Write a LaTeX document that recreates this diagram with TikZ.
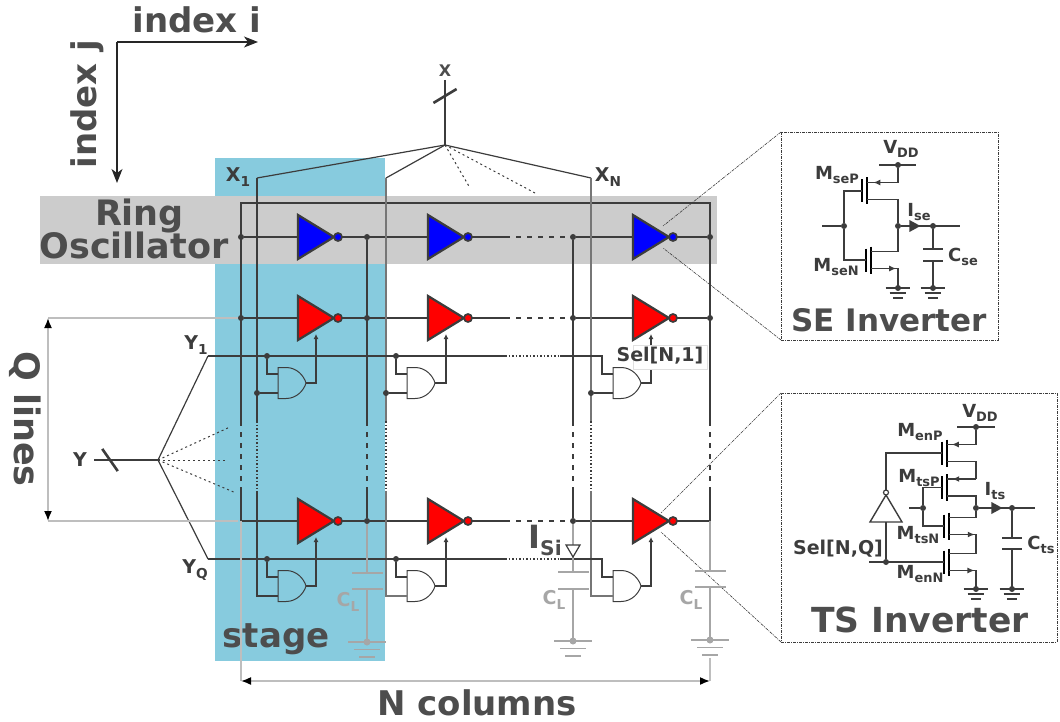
\documentclass[tikz,border=0pt]{standalone}
\usepackage{fontspec}
\setmainfont{DejaVu Sans}
\usetikzlibrary{positioning,shapes.geometric,arrows,arrows.meta,decorations.markings}
\definecolor{wire}{HTML}{3C3C3C}
\definecolor{txt}{HTML}{4D4D4D}
\definecolor{stagec}{HTML}{87CBDE}
\definecolor{bandc}{HTML}{CCCCCC}
\definecolor{lg}{HTML}{A6A6A6}
\definecolor{lgg}{HTML}{BEBEBE}
\newcommand{\lowtxt}[1]{\raisebox{-.4ex}{\scalebox{.72}{#1}}}
\tikzset{
	inner sep=0pt,outer sep=0pt,
	rail/.style={draw=wire,line width=2pt},
	railb/.style={draw=wire,line width=2pt,dash pattern=on 5pt off 6pt},
	thinw/.style={draw=wire,line width=1.2pt},
	thinb/.style={draw=wire,line width=1.2pt,dash pattern=on 1.5pt off 2pt},
	fan/.style={draw=wire,line width=1pt,dash pattern=on 2pt off 3pt},
	capw/.style={draw=lg,line width=2pt},
	lgw/.style={draw=lgg,line width=1.6pt},
	dot/.style={circle,fill=wire,minimum size=6pt},
	inv/.style={isosceles triangle,isosceles triangle stretches,shape border rotate=0,anchor=lower side,
		minimum width=44pt,minimum height=36pt,draw=wire,line width=2.2pt},
	invb/.style={inv,fill=blue},
	invr/.style={inv,fill=red},
	bub/.style={circle,draw=wire,line width=1.7pt,minimum size=8pt},
	plate/.style={rectangle,fill=lg,minimum width=31pt,minimum height=2.6pt},
	platesm/.style={rectangle,fill=wire,minimum width=20pt,minimum height=1.8pt},
	flow/.style={isosceles triangle,isosceles triangle stretches,fill=wire,minimum width=12pt,minimum height=11pt},
	buss/.style={rectangle,fill=wire,minimum width=27pt,minimum height=2.6pt},
	zoomln/.style={draw=wire,line width=.6pt,dash pattern=on 3pt off 1pt on 1pt off 1pt},
	zoombox/.style={rectangle,draw=wire,line width=.7pt,dash pattern=on 3pt off 1pt on 1pt off 1pt,fill=white},
	arw/.style={decoration={markings,mark=at position #1 with {\arrow{Latex[length=7pt,width=6pt]}}},postaction=decorate},
	post/.style={-{Stealth[length=14pt,width=11pt,inset=4pt]},draw=black!85,line width=1.2pt},
	both/.style={{Latex[black,length=10pt,width=8pt]}-{Latex[black,length=10pt,width=8pt]},draw=lgg,line width=1.6pt},
	pre/.style={thinw,-{Latex[length=5pt,width=5pt]}},
	sw/.style={draw=wire,line width=1.3pt},
	lab/.style={font=\bfseries\fontsize{34}{36}\selectfont,text=txt},
	lbl/.style={font=\bfseries\fontsize{19}{19}\selectfont,text=wire},
	lblsm/.style={font=\bfseries\fontsize{18}{18}\selectfont,text=wire},
	lblg/.style={font=\bfseries\fontsize{19}{19}\selectfont,text=lg},
	gnd/.pic={
		\draw[line width=1.6pt] (-19,0) -- (19,0);
		\draw[line width=1.6pt] (-13,7.5) -- (13,7.5);
		\draw[line width=1.6pt] (-8,15) -- (8,15);
	},
	mosfet/.pic={
		\draw[line width=1.6pt] (-5,-11.5) -- (-5,11.5);
		\draw[line width=1.6pt] (0,-13.5) -- (0,13.5);
		\coordinate (-G) at (-5,0);
		\coordinate (-T) at (0,-8.5);
		\coordinate (-B) at (0,8.5);
	},
	andgate/.pic={
		\draw[draw=wire,line width=1pt] (-14,-15.5) -- (-6,-15.5) .. controls (5,-15.5) and (12,-7) .. (14,0)
			.. controls (12,7) and (5,15.5) .. (-6,15.5) -- (-14,15.5) -- cycle;
		\coordinate (-A) at (-14,-9);
		\coordinate (-B) at (-14,10);
		\coordinate (-O) at (14,0);
	}
}
\begin{document}
\begin{tikzpicture}[x=1pt,y=-1pt]
\useasboundingbox (0,0) rectangle (1060,722);
\fill[stagec] (215,158) rectangle (385,661);
\fill[bandc] (40,196) rectangle (717,264);
% axes
\coordinate (Orig) at (117,42);
\coordinate (Axi) at (258,42);
\coordinate (Axj) at (117,183);
\draw[post] (Orig) -- (Axi);
\draw[post] (Orig) -- (Axj);
\node[lab] (Indexi) at (197,20) {index i};
\node[lab,rotate=90] (Indexj) at (87,104) {index j};
\node[lab,font=\bfseries\fontsize{35}{36}\selectfont,align=center] (Ring) at (134,229) {\hspace{11pt}Ring\\[-3pt]Oscillator};
\node[lab] (Stage) at (276,639) {stage};
\node[lab] (Ncol) at (477,703) {N columns};
\node[lab,font=\bfseries\fontsize{35}{36}\selectfont,rotate=-90] (Qlines) at (25,419) {Q lines};
% zoom lines and boxes
\node[zoombox,minimum width=217pt,minimum height=208pt] (SEbox) at (889.5,236) {};
\node[zoombox,minimum width=276pt,minimum height=249pt] (TSbox) at (919,517.5) {};
% inverters
\node[invb] (G11) at (298,237) {};
\node[bub,fill=blue] (P11) [right=0pt of G11.apex] {};
\node[invb] (G12) at (428,237) {};
\node[bub,fill=blue] (P12) [right=0pt of G12.apex] {};
\node[invb] (G13) at (633,237) {};
\node[bub,fill=blue] (P13) [right=0pt of G13.apex] {};
\node[invr] (G21) at (298,318) {};
\node[bub,fill=red] (P21) [right=0pt of G21.apex] {};
\node[invr] (G22) at (428,318) {};
\node[bub,fill=red] (P22) [right=0pt of G22.apex] {};
\node[invr] (G23) at (633,318) {};
\node[bub,fill=red] (P23) [right=0pt of G23.apex] {};
\node[invr] (G31) at (298,521) {};
\node[bub,fill=red] (P31) [right=0pt of G31.apex] {};
\node[invr] (G32) at (428,521) {};
\node[bub,fill=red] (P32) [right=0pt of G32.apex] {};
\node[invr] (G33) at (633,521) {};
\node[bub,fill=red] (P33) [right=0pt of G33.apex] {};
\draw[zoomln] (SEbox.north west) -- ([xshift=12pt]G13.left side);
\draw[zoomln] (SEbox.south west) -- ([xshift=12pt]G13.right side);
\draw[zoomln] (TSbox.north west) -- ([xshift=10pt,yshift=-3pt]G33.left side);
\draw[zoomln] (TSbox.south west) -- ([xshift=10pt]G33.right side);
% and gates
\pic (N21) at (292,383) {andgate};
\pic (N22) at (421,383) {andgate};
\pic (N23) at (627,383) {andgate};
\pic (N31) at (292,586) {andgate};
\pic (N32) at (421,586) {andgate};
\pic (N33) at (627,586) {andgate};
% rail
\coordinate (Rtl) at (241,203);
\coordinate (Rtr) at (710,203);
\coordinate (Rbl) at (241,521);
\coordinate (Rbr) at (710,521);
\coordinate (T1) at (241,421);
\coordinate (S1) at (241,488);
\coordinate (T2) at (367,421);
\coordinate (S2) at (367,488);
\coordinate (T3) at (573,421);
\coordinate (S3) at (573,488);
\coordinate (T4) at (710,421);
\coordinate (S4) at (710,488);
\node[dot] (A1) at (241,237) {};
\node[dot] (A2) at (367,237) {};
\node[dot] (A3) at (573,237) {};
\node[dot] (A4) at (710,237) {};
\node[dot] (B1) at (241,318) {};
\node[dot] (B2) at (367,318) {};
\node[dot] (B3) at (573,318) {};
\node[dot] (B4) at (710,318) {};
\node[dot] (C2) at (367,521) {};
\node[dot] (C3) at (573,521) {};
\coordinate (D1) at (505,237);
\coordinate (D2) at (505,318);
\coordinate (D3) at (505,521);
\draw[rail] (T1) -- (Rtl) -- (Rtr) -- (T4);
\draw[railb] (T1) -- (S1);
\draw[rail] (S1) -- (Rbl);
\draw[railb] (T4) -- (S4);
\draw[rail] (S4) -- (Rbr) -- (P33);
\draw[rail] (A2) -- (T2);
\draw[railb] (T2) -- (S2);
\draw[rail] (S2) -- (C2);
\draw[rail] (A3) -- (T3);
\draw[railb] (T3) -- (S3);
\draw[rail] (S3) -- (C3);
\draw[rail] (A1) -- (G11.lower side);
\draw[rail] (P11) -- (G12.lower side);
\draw[rail] (P12) -- (D1);
\draw[railb] (D1) -- (A3);
\draw[rail] (A3) -- (G13.lower side);
\draw[rail] (P13) -- (A4);
\draw[rail] (B1) -- (G21.lower side);
\draw[rail] (P21) -- (G22.lower side);
\draw[rail] (P22) -- (D2);
\draw[railb] (D2) -- (B3);
\draw[rail] (B3) -- (G23.lower side);
\draw[rail] (P23) -- (B4);
\draw[rail] (Rbl) -- (G31.lower side);
\draw[rail] (P31) -- (G32.lower side);
\draw[rail] (P32) -- (D3);
\draw[railb] (D3) -- (C3);
\draw[rail] (C3) -- (G33.lower side);
% X bus
\coordinate (Xtop) at (445,80);
\coordinate (Xh) at (445,145);
\coordinate (Xa) at (257,178);
\coordinate (Xb) at (386,178);
\coordinate (Xc) at (591,178);
\coordinate (Xd) at (470,188);
\coordinate (Xe) at (535,193);
\node[lbl,font=\bfseries\fontsize{16}{16}\selectfont,text=txt] (Xlab) at (445,71) {X};
\node[lbl] (Xone) at (238,177) {X\lowtxt{1}};
\node[lbl] (Xlast) at (608,177) {X\lowtxt{N}};
\node[buss,rotate=31] (Xs) at (445,96) {};
\draw[rail,line width=2.4pt] (Xtop) -- (Xh);
\draw[thinw] (Xa) -- (Xh) -- (Xc);
\draw[thinw] (Xb) -- (Xh);
\draw[fan] (Xh) -- (Xd);
\draw[fan] (Xh) -- (Xe);
\coordinate (V1) at (257,421);
\coordinate (W1) at (257,491);
\coordinate (V2) at (386,421);
\coordinate (W2) at (386,491);
\coordinate (V3) at (591,421);
\coordinate (W3) at (591,491);
\draw[thinw] (Xa) -- (V1);
\draw[thinb] (V1) -- (W1);
\draw[thinw] (W1) |- (N31-B);
\draw[thinw,draw=wire!70] (Xb) -- (V2);
\draw[thinb] (V2) -- (W2);
\draw[thinw,draw=wire!70] (W2) |- (N32-B);
\draw[thinw,draw=wire!70] (Xc) -- (V3);
\draw[thinb] (V3) -- (W3);
\draw[thinw,draw=wire!70] (W3) |- (N33-B);
\node[dot] (J1) at (257,393) {};
\node[dot] (J2) at (386,393) {};
\node[dot] (J3) at (591,393) {};
\draw[thinw] (J1) -- (N21-B);
\draw[thinw] (J2) -- (N22-B);
\draw[thinw] (J3) -- (N23-B);
% Y bus
\node[lbl] (Ylab) at (80,460) {Y};
\coordinate (Yl) at (94,460);
\coordinate (Yh) at (158,460);
\coordinate (Ya) at (208,356);
\coordinate (Yb) at (208,559);
\coordinate (Yc) at (230,427);
\coordinate (Yd) at (227,460);
\coordinate (Ye) at (236,493);
\node[buss,rotate=-55] (Ys) at (110,460) {};
\node[lbl] (Yone) at (196,345) {Y\lowtxt{1}};
\node[lbl] (Ylast) at (195,570) {Y\lowtxt{Q}};
\draw[rail,line width=2.4pt] (Yl) -- (Yh);
\draw[thinw] (Ya) -- (Yh) -- (Yb);
\draw[fan] (Yh) -- (Yc);
\draw[fan] (Yh) -- (Yd);
\draw[fan] (Yh) -- (Ye);
\node[dot] (K21) at (267,356) {};
\node[dot] (K22) at (396,356) {};
\node[dot] (K31) at (267,559) {};
\node[dot] (K32) at (396,559) {};
\coordinate (Ym1) at (505,356);
\coordinate (Yn1) at (560,356);
\coordinate (Yp1) at (602,356);
\coordinate (Ym2) at (505,559);
\coordinate (Yn2) at (560,559);
\coordinate (Yp2) at (602,559);
\draw[thinw] (Ya) -- (Ym1);
\draw[thinb] (Ym1) -- (Yn1);
\draw[thinw] (Yn1) -- (Yp1) |- (N23-A);
\draw[thinw] (Yb) -- (Ym2);
\draw[thinb] (Ym2) -- (Yn2);
\draw[thinw] (Yn2) -- (Yp2) |- (N33-A);
\draw[thinw] (K21) |- (N21-A);
\draw[thinw] (K22) |- (N22-A);
\draw[thinw] (K31) |- (N31-A);
\draw[thinw] (K32) |- (N32-A);
\draw[pre] (N21-O) -| ([yshift=-5pt]G21.right side);
\draw[pre] (N22-O) -| ([yshift=-5pt]G22.right side);
\draw[pre] (N23-O) -| ([yshift=-5pt]G23.right side);
\draw[pre] (N31-O) -| ([yshift=-5pt]G31.right side);
\draw[pre] (N32-O) -| ([yshift=-5pt]G32.right side);
\draw[pre] (N33-O) -| ([yshift=-5pt]G33.right side);
\node[rectangle,fill=white,draw=black!12,line width=.5pt,minimum width=74pt,minimum height=24pt] (Selbox) at (670,357) {};
\node[lbl] (Selone) at (660,356) {Sel[N,1]};
% load capacitors
\node[plate] (Pa2) at (367,573) {};
\node[plate] (Pb2) at (367,589) {};
\node[plate] (Pa3) at (573,572) {};
\node[plate] (Pb3) at (573,589) {};
\node[plate] (Pa4) at (710,571) {};
\node[plate] (Pb4) at (710,587) {};
\coordinate (E2) at (367,642);
\coordinate (E3) at (573,641);
\coordinate (E4) at (710,640);
\coordinate (Eb) at (710,658);
\coordinate (Na) at (241,681);
\coordinate (Nb) at (710,681);
\draw[capw] (C2) -- (Pa2);
\draw[capw] (Pb2) -- (E2);
\draw[capw] (C3) -- (Pa3);
\draw[capw] (Pb3) -- (E3);
\draw[capw] (Rbr) -- (Pa4);
\draw[capw] (Pb4) -- (E4);
\pic[color=lg] at (E2) {gnd};
\pic[color=lg] at (E3) {gnd};
\pic[color=lg] at (E4) {gnd};
\node[circle,fill=lg,minimum size=7pt] (Ed2) at (E2) {};
\node[circle,fill=lg,minimum size=7pt] (Ed3) at (E3) {};
\node[circle,fill=lg,minimum size=7pt] (Ed4) at (E4) {};
\node[lblg] (CL2) at (348,602) {C\lowtxt{L}};
\node[lblg] (CL3) at (554,600) {C\lowtxt{L}};
\node[lblg] (CL4) at (691,600) {C\lowtxt{L}};
\node[isosceles triangle,isosceles triangle stretches,shape border rotate=-90,draw=wire,fill=white,line width=1.2pt,
	minimum width=14pt,minimum height=12pt] (Isi) at (573,549) {};
\node[font=\bfseries\fontsize{32}{32}\selectfont,text=txt] (Isilab) at (545,540) {I\lowtxt{\fontsize{28}{28}\selectfont Si}};
% gray guides
\coordinate (Qa) at (48,318);
\coordinate (Qb) at (48,521);
\coordinate (Qc) at (238,318);
\coordinate (Qd) at (238,521);
\draw[lgw] (Qa) -- (Qc);
\draw[lgw] (Qb) -- (Qd);
\draw[both] (Qa) -- (Qb);
\draw[lgw] (Rbl) -- (Na);
\draw[lgw] (Eb) -- (Nb);
\draw[both] (Na) -- (Nb);
% SE inverter
\pic (seP) at (867,191) {mosfet};
\pic (seN) at (871,260) {mosfet};
\node[dot] (Sv) at (898,165) {};
\node[dot] (Sgi) at (844,226) {};
\node[dot] (Sgo) at (898,226) {};
\node[dot] (Sc) at (933,226) {};
\node[flow] (Sfl) at (913,226) {};
\coordinate (Sva) at (879,165);
\coordinate (Svb) at (916,165);
\coordinate (Sin) at (822,226);
\coordinate (Sout) at (960,226);
\coordinate (Sgn) at (898,288);
\coordinate (Sgc) at (933,288);
\node[platesm] (Sp1) at (933,249) {};
\node[platesm] (Sp2) at (933,261) {};
\draw[sw] (Sva) -- (Svb);
\draw[sw,arw=.86] (Sv) |- (seP-T);
\draw[sw] (seP-B) -| (Sgo);
\draw[sw] (Sgo) |- (seN-T);
\draw[sw,arw=.54] (seN-B) -| (Sgn);
\draw[sw] (Sin) -- (Sgi);
\draw[sw] (Sgi) |- (seP-G);
\draw[sw] (Sgi) |- (seN-G);
\draw[sw] (Sgo) -- (Sout);
\draw[sw] (Sc) -- (Sp1);
\draw[sw] (Sp2) -- (Sgc);
\pic[color=wire,scale=.65] at (Sgn) {gnd};
\pic[color=wire,scale=.65] at (Sgc) {gnd};
\node[dot] (Sgnd) at (Sgn) {};
\node[dot] (Sgcd) at (Sgc) {};
\node[lblsm] (Svdd) at (901,149) {V\lowtxt{DD}};
\node[lblsm] (SmP) at (837,175) {M\lowtxt{seP}};
\node[lblsm] (SmN) at (836,267) {M\lowtxt{seN}};
\node[lblsm] (Sise) at (919,212) {I\lowtxt{se}};
\node[lblsm] (Scse) at (963,257) {C\lowtxt{se}};
\node[lab,font=\bfseries\fontsize{31}{31}\selectfont] (Setitle) at (889,320) {SE Inverter};
% TS inverter
\pic (enP) at (947,453) {mosfet};
\pic (tsP) at (947,487.5) {mosfet};
\pic (tsN) at (949,526) {mosfet};
\pic (enN) at (949,562) {mosfet};
\node[dot] (Tv) at (976,427) {};
\node[dot] (Tgi) at (923,508) {};
\node[dot] (Tgo) at (976,508) {};
\node[dot] (Tc) at (1012,508) {};
\node[dot] (Tsel) at (886,562) {};
\node[flow] (Tfl) at (995,508) {};
\coordinate (Tva) at (957,427);
\coordinate (Tvb) at (995,427);
\coordinate (Tin) at (909,508);
\coordinate (Tout) at (1035,508);
\coordinate (Tsl) at (869,562);
\coordinate (Tgn) at (976,589);
\coordinate (Tgc) at (1012,589);
\coordinate (Tm1) at (976,479);
\coordinate (Tm2) at (976,553.5);
\node[platesm] (Tp1) at (1012,538) {};
\node[platesm] (Tp2) at (1012,549) {};
\node[isosceles triangle,isosceles triangle stretches,shape border rotate=90,anchor=lower side,draw=wire,fill=white,
	line width=1.4pt,minimum width=32pt,minimum height=27pt] (Tinv) at (886,522) {};
\node[bub,fill=white,minimum size=5pt,line width=1.2pt] (Tbub) [above=0pt of Tinv.apex] {};
\draw[sw] (Tva) -- (Tvb);
\draw[sw,arw=.89] (Tv) |- (enP-T);
\draw[sw] (enP-B) -| (Tm1);
\draw[sw,arw=.82] (Tm1) -- (tsP-T);
\draw[sw] (tsP-B) -| (Tgo);
\draw[sw] (Tgo) |- (tsN-T);
\draw[sw,arw=.56] (tsN-B) -| (Tm2);
\draw[sw] (Tm2) -- (enN-T);
\draw[sw,arw=.56] (enN-B) -| (Tgn);
\draw[sw] (Tin) -- (Tgi);
\draw[sw] (Tgi) |- (tsP-G);
\draw[sw] (Tgi) |- (tsN-G);
\draw[sw] (Tgo) -- (Tout);
\draw[sw] (Tc) -- (Tp1);
\draw[sw] (Tp2) -- (Tgc);
\draw[sw] (Tsl) -- (enN-G);
\draw[sw] (Tsel) -- (Tinv.lower side);
\draw[sw] (Tbub) |- (enP-G);
\pic[color=wire,scale=.65] at (Tgn) {gnd};
\pic[color=wire,scale=.65] at (Tgc) {gnd};
\node[dot] (Tgnd) at (Tgn) {};
\node[dot] (Tgcd) at (Tgc) {};
\node[lblsm] (Tvdd) at (980,413) {V\lowtxt{DD}};
\node[lblsm] (MenP) at (920,432) {M\lowtxt{enP}};
\node[lblsm] (MtsP) at (919,478) {M\lowtxt{tsP}};
\node[lblsm] (MtsN) at (918,535) {M\lowtxt{tsN}};
\node[lblsm] (MenN) at (920,574) {M\lowtxt{enN}};
\node[lblsm] (Tits) at (995,491) {I\lowtxt{ts}};
\node[lblsm] (Tcts) at (1041,545) {C\lowtxt{ts}};
\node[lbl] (Selq) at (838,549) {Sel[N,Q]};
\node[lab,font=\bfseries\fontsize{34.5}{36}\selectfont] (Tstitle) at (920,620) {TS Inverter};
\end{tikzpicture}
\end{document}
